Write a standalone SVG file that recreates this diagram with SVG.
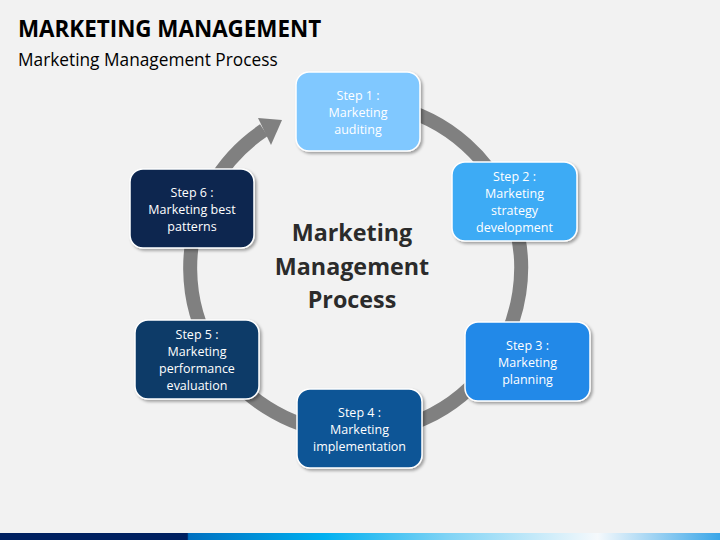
<svg xmlns="http://www.w3.org/2000/svg" width="720" height="540" viewBox="0 0 720 540">
<defs>
<style>
.t{font-family:"Open Sans","Noto Sans",sans-serif;}
.box{stroke:#FFFFFF;stroke-width:1.5;filter:url(#sh);}
.bt{font-family:"Open Sans","Noto Sans",sans-serif;font-size:12.5px;fill:#FFFFFF;text-anchor:middle;}
.ct{font-family:"Open Sans","Noto Sans",sans-serif;font-size:23.3px;font-weight:bold;fill:#2B2B2B;text-anchor:middle;}
</style>
<filter id="sh" x="-10%" y="-10%" width="130%" height="130%">
<feDropShadow dx="2" dy="2" stdDeviation="1.5" flood-color="#000000" flood-opacity="0.35"/>
</filter>
<linearGradient id="bar" x1="0" y1="0" x2="720" y2="0" gradientUnits="userSpaceOnUse">
<stop offset="0" stop-color="#002060"/>
<stop offset="0.26" stop-color="#002060"/>
<stop offset="0.262" stop-color="#0070C0"/>
<stop offset="0.45" stop-color="#00B0F0"/>
<stop offset="0.62" stop-color="#7FD3F5"/>
<stop offset="0.83" stop-color="#F5F9FC"/>
<stop offset="1" stop-color="#3AA6E8"/>
</linearGradient>
</defs>
<rect x="0" y="0" width="720" height="540" fill="#F2F2F2"/>
<rect x="0" y="533" width="720" height="7" fill="url(#bar)"/>
<text class="t" x="18" y="37" font-size="22.4" font-weight="bold" fill="#000000">MARKETING MANAGEMENT</text>
<text class="t" x="18" y="66" font-size="17.3" fill="#000000">Marketing Management Process</text>
<g id="connectors">
<path d="M312.7,108.1 A165.5,165.5 0 1 1 263.9,130.2" fill="none" stroke="#808080" stroke-width="14"/>
<polygon points="258,118 282,120 271,145" fill="#808080"/>
</g>
<g id="center">
<text class="ct" x="352" y="241">Marketing</text>
<text class="ct" x="352" y="275">Management</text>
<text class="ct" x="352" y="308">Process</text>
</g>
<g id="step1">
<rect class="box" x="296" y="72" width="124" height="79" rx="13" fill="#80C8FF"/>
<text class="bt" x="358" y="100" fill="#F0F4F8">Step 1 :</text>
<text class="bt" x="358" y="117">Marketing</text>
<text class="bt" x="358" y="134">auditing</text>
</g>
<g id="step2">
<rect class="box" x="452" y="162" width="125" height="79" rx="13" fill="#3EABF5"/>
<text class="bt" x="514.5" y="181">Step 2 :</text>
<text class="bt" x="514.5" y="198">Marketing</text>
<text class="bt" x="514.5" y="215">strategy</text>
<text class="bt" x="514.5" y="232">development</text>
</g>
<g id="step3">
<rect class="box" x="465" y="322" width="125" height="79" rx="13" fill="#2389E8"/>
<text class="bt" x="527.5" y="350">Step 3 :</text>
<text class="bt" x="527.5" y="367">Marketing</text>
<text class="bt" x="527.5" y="384">planning</text>
</g>
<g id="step4">
<rect class="box" x="297" y="389" width="125" height="79" rx="13" fill="#0D5596"/>
<text class="bt" x="359.5" y="417">Step 4 :</text>
<text class="bt" x="359.5" y="434">Marketing</text>
<text class="bt" x="359.5" y="451">implementation</text>
</g>
<g id="step5">
<rect class="box" x="135" y="320" width="124" height="79" rx="13" fill="#0B3B68"/>
<text class="bt" x="197" y="339">Step 5 :</text>
<text class="bt" x="197" y="356">Marketing</text>
<text class="bt" x="197" y="373">performance</text>
<text class="bt" x="197" y="390">evaluation</text>
</g>
<g id="step6">
<rect class="box" x="130" y="169" width="124" height="79" rx="13" fill="#0A2850"/>
<text class="bt" x="192" y="197">Step 6 :</text>
<text class="bt" x="192" y="214">Marketing best</text>
<text class="bt" x="192" y="231">patterns</text>
</g>
</svg>
